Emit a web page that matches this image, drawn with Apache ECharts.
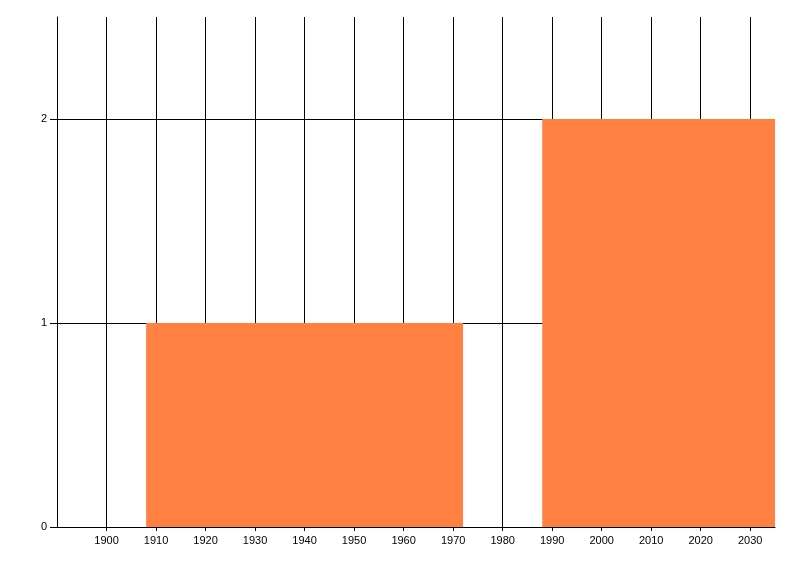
<!DOCTYPE html>
<html>
<head>
<meta charset="utf-8">
<script src="https://cdn.jsdelivr.net/npm/echarts@6/dist/echarts.min.js"></script>
<style>html,body{margin:0;padding:0;background:#fff;}#c{width:800px;height:576px;}</style>
</head>
<body>
<div id="c"></div>
<script>
// Histogram bins: [start year, end year, count]
const binStarts = [1908, 1988];
const binEnds = [1972, 2052];
const binCounts = [1, 2];
const xTickValues = [1900, 1910, 1920, 1930, 1940, 1950, 1960, 1970, 1980, 1990, 2000, 2010, 2020, 2030];
const yTickValues = [0, 1, 2];

const data = binStarts.map((s, i) => [s, binEnds[i], binCounts[i]]);
const chart = echarts.init(document.getElementById('c'), null, {renderer: 'canvas'});
const font = {fontFamily: 'Liberation Sans', fontSize: 11, color: '#000'};
chart.setOption({
  animation: false,
  backgroundColor: '#fff',
  grid: {left: 57, right: 25, top: 17, bottom: 49, containLabel: false},
  xAxis: {
    type: 'value', min: 1890, max: 2035, interval: 10,
    axisLine: {show: true, lineStyle: {color: '#000', width: 1}},
    axisTick: {show: true, length: 4, customValues: xTickValues, lineStyle: {color: '#000'}},
    axisLabel: Object.assign({margin: 8, customValues: xTickValues, formatter: v => String(v)}, font),
    splitLine: {show: true, showMinLine: true, showMaxLine: true, lineStyle: {color: '#000', width: 1}}
  },
  yAxis: {
    type: 'value', min: 0, max: 2.5, interval: 1,
    axisLine: {show: true, lineStyle: {color: '#000', width: 1}},
    axisTick: {show: true, length: 7, customValues: yTickValues, lineStyle: {color: '#000'}},
    axisLabel: Object.assign({margin: 10, customValues: yTickValues, formatter: v => String(v)}, font),
    splitLine: {show: true, showMinLine: false, showMaxLine: true, lineStyle: {color: '#000', width: 1}}
  },
  series: [{
    type: 'custom',
    clip: true,
    data: data,
    renderItem: function (params, api) {
      const p0 = api.coord([api.value(0), 0]);
      const p1 = api.coord([api.value(1), api.value(2)]);
      const rect = echarts.graphic.clipRectByRect(
        {x: p0[0], y: p1[1], width: p1[0] - p0[0], height: p0[1] - p1[1]},
        {x: params.coordSys.x, y: params.coordSys.y, width: params.coordSys.width, height: params.coordSys.height}
      );
      if (!rect) return;
      return {type: 'rect', shape: rect, style: {fill: '#FF8040'}};
    }
  }]
});
</script>
</body>
</html>
